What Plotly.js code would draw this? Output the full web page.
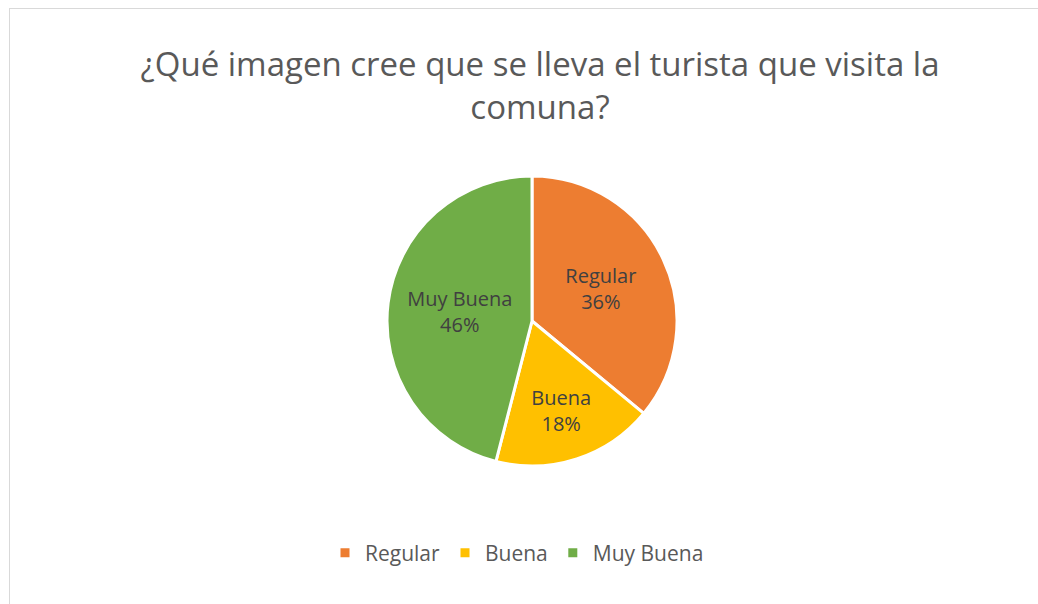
<!DOCTYPE html>
<html>
<head>
<meta charset="utf-8">
<script src="https://cdn.plot.ly/plotly-3.0.1.min.js"></script>
<style>
html,body{margin:0;padding:0;background:#fff;}
#wrap{position:relative;width:1038px;height:604px;overflow:hidden;}
#chart{width:1038px;height:604px;}
#frame{position:absolute;left:9px;top:8px;width:1040px;height:610px;border:1px solid #d9d9d9;pointer-events:none;box-sizing:border-box;}
</style>
</head>
<body>
<div id="wrap"><div id="chart"></div><div id="frame"></div></div>
<script>
const categories = ["Regular", "Buena", "Muy Buena"];
const values = [36, 18, 46];
const colors = ["#ED7D31", "#FFC000", "#70AD47"];
const titleText = "¿Qué imagen cree que se lleva el turista que visita la<br>comuna?";

const W = 1038, H = 604;
const trace = {
  type: "pie",
  labels: categories,
  values: values,
  sort: false,
  direction: "clockwise",
  rotation: 0,
  marker: {colors: colors, line: {color: "#ffffff", width: 3}},
  textinfo: "label+percent",
  textposition: "inside",
  insidetextorientation: "horizontal",
  insidetextfont: {family: "Open Sans, sans-serif", size: 20, color: "#404040"},
  hoverinfo: "label+percent",
  domain: {x: [387/W, 677/W], y: [(H-466)/H, (H-176)/H]}
};
const layout = {
  width: W, height: H,
  margin: {l: 0, r: 0, t: 0, b: 0},
  paper_bgcolor: "#ffffff",
  showlegend: true,
  title: {
    text: titleText,
    font: {family: "Open Sans, sans-serif", size: 33, color: "#595959"},
    x: 540/W, xanchor: "center",
    y: 1 - 76/H, yanchor: "middle"
  },
  legend: {
    orientation: "h",
    x: 517/W, xanchor: "center",
    y: (H-553)/H, yanchor: "middle",
    itemwidth: 30,
    font: {family: "Open Sans, sans-serif", size: 21, color: "#595959"},
    traceorder: "normal"
  }
};
Plotly.newPlot("chart", [trace], layout, {displayModeBar: false, staticPlot: true});
</script>
</body>
</html>
